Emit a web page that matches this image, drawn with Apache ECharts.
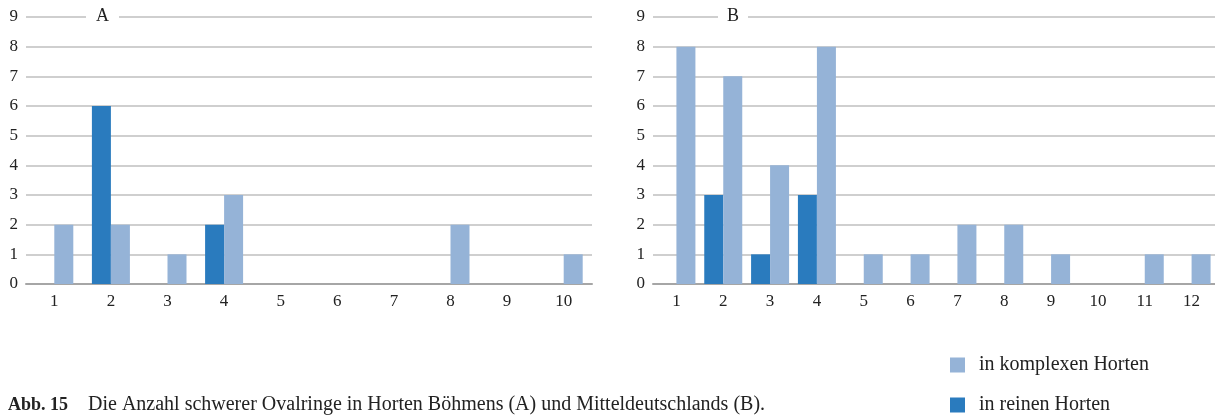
<!DOCTYPE html>
<html><head><meta charset="utf-8">
<script src="https://cdn.jsdelivr.net/npm/echarts@6/dist/echarts.min.js"></script>
<style>html,body{margin:0;padding:0;background:#fff}#c{width:1215px;height:417px}</style>
</head><body><div id="c"></div>
<script>
const catsA = ['1','2','3','4','5','6','7','8','9','10'];
const reineA = [0,6,0,2,0,0,0,0,0,0];
const komplexA = [2,2,1,3,0,0,0,2,0,1];
const catsB = ['1','2','3','4','5','6','7','8','9','10','11','12'];
const reineB = [0,3,1,3,0,0,0,0,0,0,0,0];
const komplexB = [8,7,4,8,1,1,2,2,1,0,1,1];
const yTicks = [0,1,2,3,4,5,6,7,8,9];
const nameK = 'in komplexen Horten', nameR = 'in reinen Horten';
const cK = '#95B3D7', cR = '#2A7BBE';
const F = '"Liberation Serif", "DejaVu Serif", serif';
const chart = echarts.init(document.getElementById('c'));
function xAx(cats, gi){return {type:'category', gridIndex:gi, data:cats,
  axisTick:{show:false}, axisLine:{lineStyle:{color:'#a6a6a6', width:2}},
  axisLabel:{color:'#222', fontFamily:F, fontSize:17, margin:9}};}
function yAx(gi){return {type:'value', gridIndex:gi, min:yTicks[0], max:yTicks[yTicks.length-1], interval:1,
  axisLine:{show:false}, axisTick:{show:false},
  splitLine:{lineStyle:{color:'#bfbfbf', width:1.5}},
  axisLabel:{color:'#222', fontFamily:F, fontSize:17, margin:8}};}
function bar(name, data, color, gi){return {type:'bar', name, data, xAxisIndex:gi, yAxisIndex:gi,
  barWidth:19, barGap:'0%', itemStyle:{color}, animation:false};}
function leg(name, top){return {data:[name], orient:'vertical', left:950, top, itemWidth:15, itemHeight:15,
  icon:'rect', selectedMode:false, padding:0, textStyle:{fontFamily:F, fontSize:20, color:'#222', padding:[0,0,0,9]}};}
chart.setOption({
  animation:false,
  textStyle:{fontFamily:F},
  grid:[{left:26, right:623, top:17, bottom:133}, {left:653, right:-6, top:17, bottom:133}],
  xAxis:[xAx(catsA,0), xAx(catsB,1)],
  yAxis:[yAx(0), yAx(1)],
  title:[
    {text:'A', left:86, top:6, padding:[1,10,1,10], backgroundColor:'#fff', textStyle:{fontFamily:F, fontSize:18, fontWeight:'normal', color:'#222'}},
    {text:'B', left:718, top:6, padding:[1,9,1,9], backgroundColor:'#fff', textStyle:{fontFamily:F, fontSize:18, fontWeight:'normal', color:'#222'}}
  ],
  legend:[leg(nameK, 355), leg(nameR, 395)],
  series:[bar(nameR, reineA, cR, 0), bar(nameK, komplexA, cK, 0), bar(nameR, reineB, cR, 1), bar(nameK, komplexB, cK, 1)],
  graphic:[
    {type:'text', left:8, top:396, style:{text:'Abb. 15', fontFamily:F, fontSize:18, fontWeight:'bold', fill:'#222'}},
    {type:'text', left:88, top:395, style:{text:'Die Anzahl schwerer Ovalringe in Horten Böhmens (A) und Mitteldeutschlands (B).', fontFamily:F, fontSize:20, fill:'#222'}}
  ]
});
</script></body></html>
